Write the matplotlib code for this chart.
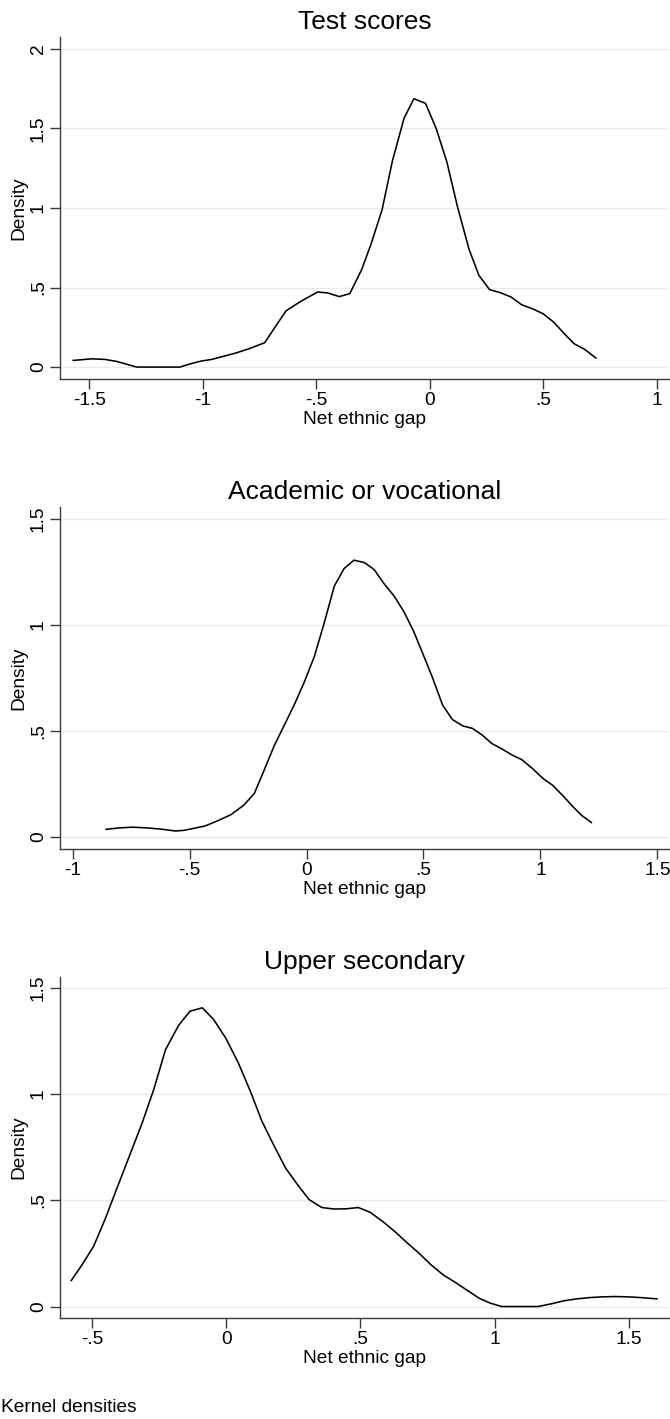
import matplotlib
matplotlib.use("Agg")
import matplotlib.pyplot as plt

plt.rcParams['font.family'] = ['Liberation Sans', 'DejaVu Sans']

# ---- data ----
titles = ["Test scores", "Academic or vocational", "Upper secondary"]

test_x = [-1.57, -1.485, -1.43, -1.38, -1.29, -1.10, -1.053, -1.006, -0.96, -0.91,
          -0.855, -0.80, -0.727, -0.686, -0.633, -0.573, -0.494, -0.45, -0.398, -0.352,
          -0.30, -0.258, -0.21, -0.164, -0.113, -0.07, -0.019, 0.028, 0.075, 0.122,
          0.173, 0.216, 0.263, 0.31, 0.357, 0.404, 0.451, 0.498, 0.545, 0.592,
          0.635, 0.682, 0.731]
test_y = [0.042, 0.052, 0.048, 0.036, 0.0, 0.0, 0.021, 0.038, 0.048, 0.067,
          0.088, 0.113, 0.153, 0.241, 0.353, 0.409, 0.472, 0.466, 0.443, 0.462,
          0.613, 0.776, 0.99, 1.30, 1.566, 1.687, 1.658, 1.50, 1.29, 1.007,
          0.739, 0.577, 0.487, 0.468, 0.441, 0.392, 0.367, 0.336, 0.283, 0.21,
          0.147, 0.111, 0.057]

acad_x = [-0.857, -0.80, -0.744, -0.68, -0.616, -0.561, -0.524, -0.479, -0.433, -0.378,
          -0.323, -0.268, -0.223, -0.18, -0.137, -0.095, -0.053, -0.009, 0.033, 0.075,
          0.119, 0.161, 0.203, 0.247, 0.289, 0.331, 0.375, 0.417, 0.459, 0.50,
          0.54, 0.582, 0.624, 0.668, 0.71, 0.752, 0.792, 0.833, 0.88, 0.92,
          0.966, 1.012, 1.052, 1.094, 1.14, 1.176, 1.218]
acad_y = [0.036, 0.0425, 0.046, 0.0425, 0.036, 0.028, 0.031, 0.041, 0.052, 0.077,
          0.105, 0.150, 0.205, 0.318, 0.433, 0.527, 0.622, 0.732, 0.85, 1.007,
          1.184, 1.267, 1.306, 1.295, 1.262, 1.196, 1.136, 1.062, 0.968, 0.858,
          0.748, 0.622, 0.554, 0.524, 0.512, 0.48, 0.441, 0.417, 0.386, 0.365,
          0.323, 0.275, 0.244, 0.197, 0.142, 0.102, 0.068]

upper_x = [-0.577, -0.537, -0.494, -0.452, -0.409, -0.361, -0.313, -0.27, -0.226, -0.178,
           -0.135, -0.089, -0.047, -0.002, 0.045, 0.09, 0.133, 0.176, 0.221, 0.266,
           0.309, 0.356, 0.401, 0.447, 0.492, 0.537, 0.583, 0.628, 0.672, 0.718,
           0.763, 0.808, 0.854, 0.899, 0.942, 0.983, 1.026, 1.162, 1.21, 1.258,
           1.305, 1.353, 1.401, 1.449, 1.497, 1.545, 1.604]
upper_y = [0.1225, 0.196, 0.283, 0.408, 0.55, 0.707, 0.864, 1.021, 1.209, 1.322,
           1.39, 1.406, 1.351, 1.264, 1.147, 1.013, 0.872, 0.762, 0.652, 0.573,
           0.503, 0.466, 0.459, 0.46, 0.466, 0.443, 0.40, 0.353, 0.302, 0.251,
           0.196, 0.149, 0.113, 0.075, 0.039, 0.016, 0.0, 0.0, 0.0126, 0.027,
           0.036, 0.042, 0.0455, 0.047, 0.0455, 0.042, 0.036]

test_xticks = [-1.5, -1, -0.5, 0, 0.5, 1]
test_xlabels = ["-1.5", "-1", "-.5", "0", ".5", "1"]
test_yticks = [0, 0.5, 1, 1.5, 2]
test_ylabels = ["0", ".5", "1", "1.5", "2"]

acad_xticks = [-1, -0.5, 0, 0.5, 1, 1.5]
acad_xlabels = ["-1", "-.5", "0", ".5", "1", "1.5"]
acad_yticks = [0, 0.5, 1, 1.5]
acad_ylabels = ["0", ".5", "1", "1.5"]

upper_xticks = [-0.5, 0, 0.5, 1, 1.5]
upper_xlabels = ["-.5", "0", ".5", "1", "1.5"]
upper_yticks = [0, 0.5, 1, 1.5]
upper_ylabels = ["0", ".5", "1", "1.5"]

x_label = "Net ethnic gap"
y_label = "Density"
note = "Kernel densities"

# ---- layout ----
W, H = 670, 1419
fig = plt.figure(figsize=(W / 100, H / 100), dpi=100)

panels = [
    (test_x, test_y, test_xticks, test_xlabels, test_yticks, test_ylabels,
     (-1.628, 1.053), (-0.075, 2.075), 37, 379),
    (acad_x, acad_y, acad_xticks, acad_xlabels, acad_yticks, acad_ylabels,
     (-1.054, 1.55), (-0.057, 1.557), 507, 849),
    (upper_x, upper_y, upper_xticks, upper_xlabels, upper_yticks, upper_ylabels,
     (-0.619, 1.649), (-0.054, 1.551), 977, 1318),
]

left_px, right_px = 60, 669
spine_col = "#3a3a3a"
fs = 13.8

for (xs, ys, xt, xl, yt, yl, xlim, ylim, top, bot), title in zip(panels, titles):
    ax = fig.add_axes([left_px / W, 1 - bot / H, (right_px - left_px) / W, (bot - top) / H])
    ax.plot(xs, ys, color="black", lw=1.15, zorder=3)
    ax.set_xlim(*xlim)
    ax.set_ylim(*ylim)
    ax.set_xticks(xt)
    ax.set_xticklabels(xl)
    ax.set_yticks(yt)
    ax.set_yticklabels(yl, rotation=90, va="center")
    ax.grid(axis="y", color="#eaeaea", lw=1.0, zorder=0)
    ax.set_axisbelow(True)
    for s in ("top", "right"):
        ax.spines[s].set_visible(False)
    for s in ("left", "bottom"):
        ax.spines[s].set_color(spine_col)
        ax.spines[s].set_linewidth(1.0)
    ax.tick_params(axis="both", direction="out", length=7, width=1.0,
                   color=spine_col, labelsize=fs, labelcolor="black")
    ax.tick_params(axis="x", pad=2.5)
    ax.tick_params(axis="y", pad=2.5)
    ax.set_title(title, fontsize=19, pad=6)
    ax.set_xlabel(x_label, fontsize=fs)
    ax.set_ylabel(y_label, fontsize=fs)
    hpx = bot - top
    ax.xaxis.set_label_coords(0.5, -32 / hpx)
    ax.yaxis.set_label_coords((27 - left_px) / (right_px - left_px), 0.5)

fig.text(1 / W, 1 - 1408 / H, note, fontsize=fs, ha="left", va="center")

fig.savefig("out.png", dpi=100, facecolor="white")
